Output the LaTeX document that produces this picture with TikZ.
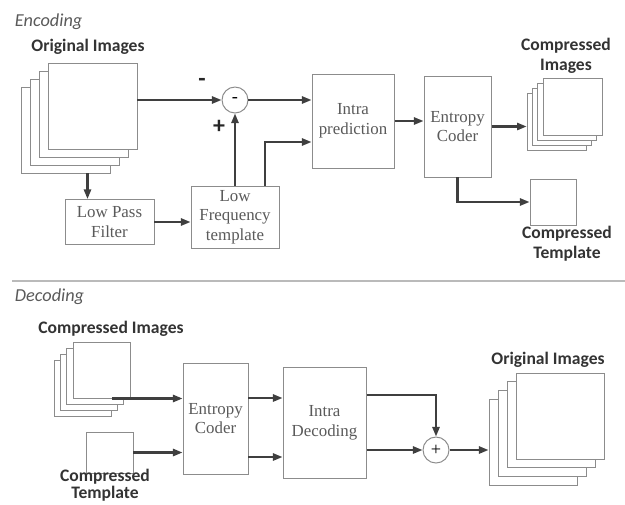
\documentclass[tikz,border=0pt]{standalone}
\usepackage{fontspec}
\setmainfont{Liberation Serif}
\newfontfamily\labelfont{Carlito}
\usetikzlibrary{arrows.meta,positioning,calc}
\definecolor{linegray}{HTML}{3F3F3F}
\definecolor{boxgray}{HTML}{8C8C8C}
\definecolor{textgray}{HTML}{5A5A5A}
\tikzset{block/.style={draw=boxgray,line width=0.7pt,fill=white,inner sep=1pt,align=center,
  text=textgray,font=\fontsize{12}{14}\selectfont},
  sheet/.style={draw=boxgray,line width=0.7pt,fill=white,inner sep=0pt},
  flow/.style={-{Triangle[length=2.4mm,width=1.8mm]},line width=1.5pt,draw=linegray},
  sumnode/.style={circle,draw=boxgray,line width=0.7pt,fill=white,minimum size=6.5mm,inner sep=0pt,
  font=\fontsize{13}{13}\selectfont},
  title/.style={font=\labelfont\bfseries\fontsize{12.5}{14}\selectfont,text=black!80,align=center},
  sign/.style={font=\labelfont\bfseries\fontsize{17}{17}\selectfont,text=black!85},
  heading/.style={anchor=west,font=\labelfont\itshape\fontsize{13}{15}\selectfont,text=textgray}}

\begin{document}
\begin{tikzpicture}[x=0.25mm,y=-0.25mm]
\useasboundingbox (0,0) rectangle (625,504);
\node[heading] (enc) at (10,22) {Encoding};
\node[title] (origlbl) at (88,47) {Original Images};
\foreach \i in {3,2,1} \node[sheet,minimum width=22.25mm,minimum height=21.5mm] (o\i) at (92.5-9*\i,106+8*\i) {};
\node[sheet,minimum width=22.25mm,minimum height=21.5mm] (o0) at (92.5,106) {};
\node[sumnode] (minus) at (235,100) {-};
\node[sign] (mlbl) at (202,82) {-};
\node[sign] (plbl) at (219,127) {+};
\node[block,minimum width=20.5mm,minimum height=23.5mm] (intra) at (353,121) {Intra\\prediction};
\node[block,minimum width=22mm,minimum height=15.5mm] (lft) at (235,217) {Low\\Frequency\\template};
\node[block,minimum width=22.25mm,minimum height=11.25mm] (lpf) at (109.5,222) {Low Pass\\Filter};
\node[block,minimum width=16.75mm,minimum height=25.25mm] (ent) at (457.5,126.5) {Entropy\\Coder};
\foreach \i in {3,2,1} \node[sheet,minimum width=14.75mm,minimum height=14.25mm] (c\i) at (572.5-5.3*\i,106.5+5.3*\i) {};
\node[sheet,minimum width=14.75mm,minimum height=14.25mm] (c0) at (572.5,106.5) {};
\node[title] (clbl) at (566,56) {Compressed\\Images};
\node[sheet,minimum width=11.5mm,minimum height=11.5mm] (ctpl) at (553,202) {};
\node[title] (tlbl) at (567,244) {Compressed\\Template};
\draw[flow] (o0.east|-minus) -- (minus);
\draw[flow] (minus) -- (intra.west|-minus);
\draw[flow] (lft.north) -- (minus);
\draw[flow] ($(lft.north)+(30,0)$) |- ($(intra.west)+(0,21)$);
\draw[flow] ($(o3.south)+(22,0)$) coordinate (a) -- (a|-lpf.north);
\draw[flow] (lpf.east) -- (lft.west|-lpf.east);
\draw[flow] (intra.east) -- (ent.west|-intra.east);
\draw[flow] (ent.east) -- (c3.west|-ent.east);
\draw[flow] (ent.south) |- (ctpl.west);
\draw[boxgray!60,line width=1.2pt] (12,281) -- (625,281);
\node[heading] (dec) at (10,297) {Decoding};
\node[title] (dlbl) at (111,329) {Compressed Images};
\foreach \i in {3,2,1} \node[sheet,minimum width=14.25mm,minimum height=14mm] (d\i) at (101.5-6.3*\i,370+6.3*\i) {};
\node[sheet,minimum width=14.25mm,minimum height=14mm] (d0) at (101.5,370) {};
\node[sheet,minimum width=11.75mm,minimum height=10.25mm] (dtpl) at (109.5,452.5) {};
\node[title,font=\labelfont\bfseries\fontsize{12.5}{12.5}\selectfont] (dtlbl) at (105,485) {Compressed\\Template};
\node[block,minimum width=16.25mm,minimum height=27.75mm] (ent2) at (215.5,418.5) {Entropy\\Coder};
\node[block,minimum width=20.75mm,minimum height=27.75mm] (intra2) at (324.5,422.5) {Intra\\Decoding};
\node[sumnode] (plus) at (436,450) {+};
\foreach \i in {3,2,1} \node[sheet,minimum width=22mm,minimum height=21.5mm] (r\i) at (560-9*\i,416+8.7*\i) {};
\node[sheet,minimum width=22mm,minimum height=21.5mm] (r0) at (560,416) {};
\node[title] (rlbl) at (548,360) {Original Images};
\draw[flow] ($(d0.south east)+(-18,0)$) -- (ent2.west|-d0.south);
\draw[flow] (dtpl.east) -- (ent2.west|-dtpl.east);
\draw[flow] ($(ent2.east)+(0,-20.5)$) -- ($(intra2.west)+(0,-24.5)$);
\draw[flow] ($(ent2.east)+(0,38.5)$) -- ($(intra2.west)+(0,34.5)$);
\draw[flow] ($(intra2.east)+(0,-27.5)$) -| (plus.north);
\draw[flow] ($(intra2.east)+(0,27.5)$) -- (plus.west);
\draw[flow] (plus.east) -- (r3.west|-plus.east);
\end{tikzpicture}
\end{document}
